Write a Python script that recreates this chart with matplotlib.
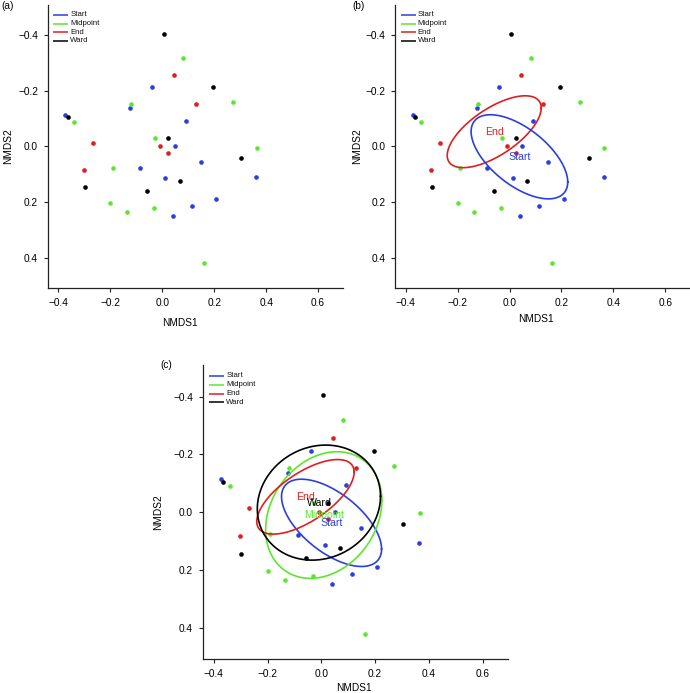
import numpy as np
import matplotlib
matplotlib.use("Agg")
import matplotlib.pyplot as plt

plt.rcParams['font.family'] = ['Liberation Sans', 'DejaVu Sans']

# ---------------- data (NMDS scores) ----------------
groups = ["Start", "Midpoint", "End", "Ward"]
colors = {"Start": "#2a3fe0", "Midpoint": "#5ee62e", "End": "#e01e1e", "Ward": "#000000"}

start_x = [-0.373, -0.040, -0.124, 0.090, 0.049, -0.086, 0.149, 0.012, 0.362, 0.208, 0.114, 0.041]
start_y = [-0.114, -0.213, -0.137, -0.093, -0.001, 0.079, 0.054, 0.114, 0.108, 0.189, 0.213, 0.250]

mid_x = [0.081, -0.121, 0.272, -0.341, -0.029, 0.365, -0.190, -0.200, -0.136, -0.032, 0.162]
mid_y = [-0.319, -0.153, -0.159, -0.089, -0.032, 0.004, 0.077, 0.202, 0.236, 0.220, 0.420]

end_x = [0.045, 0.129, -0.268, -0.010, 0.024, -0.301]
end_y = [-0.257, -0.153, -0.013, -0.001, 0.022, 0.083]

ward_x = [0.005, 0.196, -0.364, 0.024, 0.305, 0.068, -0.058, -0.297]
ward_y = [-0.405, -0.213, -0.105, -0.031, 0.042, 0.125, 0.160, 0.144]

points = {"Start": (start_x, start_y), "Midpoint": (mid_x, mid_y),
          "End": (end_x, end_y), "Ward": (ward_x, ward_y)}

# ellipse summaries per group: centre, half-extent in x and y, correlation
ell_center = {"Start": (0.038, 0.037), "Midpoint": (0.009, 0.010),
              "End": (-0.059, -0.053), "Ward": (-0.009, -0.033)}
ell_sd = {"Start": (0.186, 0.151), "Midpoint": (0.216, 0.219),
          "End": (0.181, 0.129), "Ward": (0.229, 0.199)}
ell_r = {"Start": 0.60, "Midpoint": -0.23, "End": -0.66, "Ward": -0.11}

xticks = [-0.4, -0.2, 0.0, 0.2, 0.4, 0.6]
yticks = [-0.4, -0.2, 0.0, 0.2, 0.4]

# ---------------- figure ----------------
W, H = 690, 693
fig = plt.figure(figsize=(W / 100, H / 100), dpi=100)

def ax_at(left, top, width, height):
    return fig.add_axes([left / W, (H - top - height) / H, width / W, height / H])

FS = 7.3
LFS = 5.6

def fmt(v):
    s = f"{v:.1f}"
    return s.replace("-", "\u2212")

def ellipse_pts(g):
    cx, cy = ell_center[g]
    sx, sy = ell_sd[g]
    r = ell_r[g]
    cov = np.array([[sx * sx, r * sx * sy], [r * sx * sy, sy * sy]])
    L = np.linalg.cholesky(cov)
    t = np.linspace(0, 2 * np.pi, 300)
    circ = np.vstack([np.cos(t), np.sin(t)])
    e = L @ circ
    return cx + e[0], cy + e[1]

def setup(ax, tag, tag_pos, xlab_pos, ylab_pos):
    ax.set_xlim(-0.441, 0.694)
    ax.set_ylim(0.508, -0.509)
    for s in ["top", "right"]:
        ax.spines[s].set_visible(False)
    for s in ["left", "bottom"]:
        ax.spines[s].set_linewidth(0.9)
        ax.spines[s].set_color("#222222")
    ax.set_xticks(xticks)
    ax.set_xticklabels([fmt(v) for v in xticks])
    ax.set_yticks(yticks)
    ax.set_yticklabels([fmt(v) for v in yticks])
    ax.tick_params(direction="out", length=3.0, width=0.8, labelsize=FS,
                   pad=4.0, color="#222222")
    ax.set_xlabel("NMDS1", fontsize=FS, va="center")
    ax.set_ylabel("NMDS2", fontsize=FS, va="center")
    ax.xaxis.set_label_coords(*xlab_pos)
    ax.yaxis.set_label_coords(*ylab_pos)
    for g in groups:
        x, y = points[g]
        ax.scatter(x, y, s=11, color=colors[g], linewidths=0, zorder=3)
    # legend
    for i, g in enumerate(groups):
        yy = 0.964 - i * 0.0305
        ax.plot([0.019, 0.070], [yy, yy], transform=ax.transAxes, color=colors[g],
                lw=1.1, clip_on=False, solid_capstyle="butt")
        ax.text(0.077, yy, g, transform=ax.transAxes, fontsize=LFS, va="center",
                ha="left", color="#111111")
    ax.text(tag_pos[0], tag_pos[1], tag, transform=ax.transAxes, fontsize=FS,
            ha="left", va="top")

def draw_ellipses(ax, gs):
    for g in gs:
        ex, ey = ellipse_pts(g)
        ax.plot(ex, ey, color=colors[g], lw=1.2, zorder=4)
    for g in gs:
        cx, cy = ell_center[g]
        ax.text(cx, cy, g, color=colors[g], fontsize=FS + 0.3, ha="center",
                va="center", zorder=5)

axA = ax_at(47.7, 4.7, 294.8, 283.3)
setup(axA, "(a)", (-0.158, 1.013), (0.45, -0.125), (-0.134, 0.5))

axB = ax_at(395, 4.7, 294.8, 283.3)
setup(axB, "(b)", (-0.146, 1.013), (0.478, -0.109), (-0.130, 0.5))
draw_ellipses(axB, ["End", "Start"])

axC = ax_at(202.7, 365, 305.3, 294)
setup(axC, "(c)", (-0.140, 1.017), (0.496, -0.099), (-0.145, 0.5))
draw_ellipses(axC, ["Start", "Midpoint", "End", "Ward"])

fig.savefig("out.png", dpi=100)
